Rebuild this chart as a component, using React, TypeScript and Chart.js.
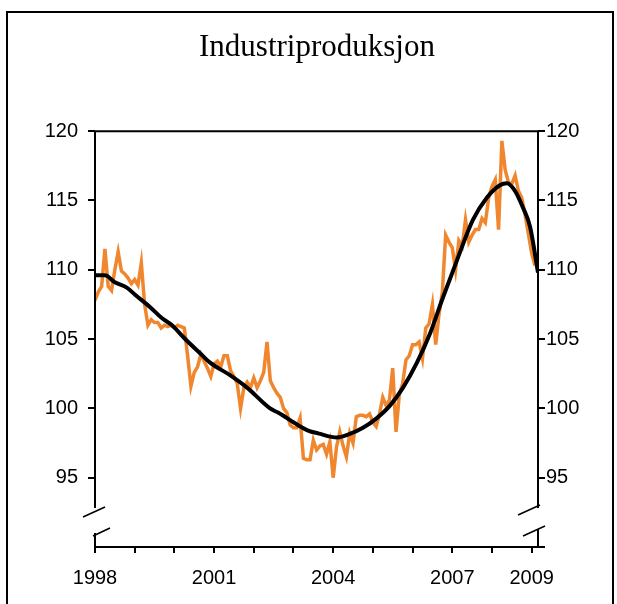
import React, { useEffect, useRef } from 'react';
import { Chart, registerables } from 'chart.js';

Chart.register(...registerables);

const TITLE = 'Industriproduksjon';
const START_YEAR = 1998;

// Monthly index, Jan 1998 - Feb 2009
const industrialProduction = [
  107.8, 108.4, 108.8, 111.5, 108.8, 108.5, 110.0, 111.3, 109.9, 109.7, 109.4, 109.0,
  109.3, 108.9, 110.5, 107.5, 106.0, 106.4, 106.2, 106.2, 105.8, 106.0, 105.9, 106.0,
  105.8, 106.0, 105.9, 105.8, 103.8, 101.6, 102.6, 103.0, 103.9, 103.4, 102.9, 102.3,
  103.2, 103.4, 103.0, 103.8, 103.8, 102.7, 102.3, 101.8, 100.0, 101.5, 101.9, 101.5,
  102.2, 101.5, 102.0, 102.6, 104.8, 102.0, 101.5, 101.1, 100.8, 100.0, 99.7, 98.8,
  98.6, 98.6, 99.3, 96.4, 96.3, 96.3, 97.7, 97.0, 97.3, 97.4, 96.7, 97.6,
  95.0, 97.2, 98.3, 97.3, 96.5, 98.2, 97.5, 99.4, 99.5, 99.5, 99.4, 99.6,
  99.0, 98.7, 99.6, 100.8, 100.2, 100.6, 102.9, 98.3, 101.0, 101.8, 103.5, 103.8,
  104.6, 104.6, 104.8, 103.6, 105.8, 106.1, 107.5, 104.6, 106.8, 108.4, 112.5, 112.0,
  111.6, 110.0, 112.1, 111.7, 113.6, 112.0, 112.5, 112.9, 112.9, 113.7, 113.4, 115.2,
  116.0, 116.5, 112.9, 119.3, 117.2, 116.3, 116.2, 116.8, 115.7, 115.2, 114.0, 112.6,
  111.2, 110.3,
];

const trendYears = [
  1998.0, 1998.25, 1998.5, 1998.81, 1999.01, 1999.39, 1999.69, 1999.94, 2000.24, 2000.64,
  2000.9, 2001.4, 2001.83, 2002.41, 2002.61, 2003.11, 2003.37, 2003.62, 2004.1, 2004.37,
  2004.75, 2005.1, 2005.43, 2005.76, 2006.11, 2006.44, 2006.74, 2007.12, 2007.52, 2007.87,
  2008.2, 2008.38, 2008.58, 2008.78, 2008.96, 2009.16,
];
const trendValues = [
  109.6, 109.6, 109.1, 108.7, 108.2, 107.3, 106.5, 106.0, 105.1, 104.0,
  103.3, 102.4, 101.5, 100.0, 99.7, 98.8, 98.4, 98.2, 97.9, 98.1,
  98.6, 99.3, 100.2, 101.5, 103.3, 105.4, 107.8, 110.7, 113.6, 115.2,
  116.1, 116.25, 115.7, 114.5, 113.1, 109.8,
];

const yearTicks = [1998, 1999, 2000, 2001, 2002, 2003, 2004, 2005, 2006, 2007, 2008, 2009];
const labelledYears = ['1998', '2001', '2004', '2007', '2009'];
const X_MIN = 1998;
const X_MAX = 2009.16;
const Y_MIN = 90;
const Y_MAX = 120;
const Y_STEP = 5;

const ORANGE = '#F0872F';
const TICK_FONT = { family: "Arial, 'Liberation Sans', sans-serif", size: 20 };

const axisFramePlugin = {
  id: 'axisFrame',
  afterDraw(chart: any) {
    const { ctx } = chart;
    const { left: L, right: R, top: T, bottom: B } = chart.chartArea;
    ctx.save();
    ctx.strokeStyle = '#000';
    ctx.lineCap = 'butt';
    const line = (x1: number, y1: number, x2: number, y2: number) => {
      ctx.beginPath();
      ctx.moveTo(x1, y1);
      ctx.lineTo(x2, y2);
      ctx.stroke();
    };
    ctx.lineWidth = 2;
    line(L - 1, T, R + 1, T);
    line(L, T, L, B - 39);
    line(L, B - 14, L, B + 1);
    line(R, T, R, B - 39);
    line(R, B - 18, R, B + 1);
    line(L - 1, B, R + 7, B);
    ctx.lineWidth = 1.6;
    line(L - 12, B - 30, L + 10, B - 40);
    line(L - 2, B - 11, L + 15, B - 19);
    line(R - 20, B - 32, R + 2, B - 42);
    line(R - 15, B - 11, R + 7, B - 21);
    ctx.restore();
  },
};

function yAxis(position: 'left' | 'right', width: number, padding: number) {
  return {
    type: 'linear',
    position,
    min: Y_MIN,
    max: Y_MAX,
    afterFit: (scale: any) => {
      scale.width = width;
    },
    border: { display: false },
    grid: {
      display: true,
      drawOnChartArea: false,
      drawTicks: true,
      tickLength: 7,
      lineWidth: 2,
      tickColor: (c: any) => (c.tick && c.tick.value === Y_MIN ? 'rgba(0,0,0,0)' : '#000'),
    },
    ticks: {
      stepSize: Y_STEP,
      padding,
      color: '#000',
      font: TICK_FONT,
      callback: (v: any) => (v === Y_MIN ? '' : String(v)),
    },
  };
}

export default function App() {
  const canvasRef = useRef<HTMLCanvasElement | null>(null);

  useEffect(() => {
    if (!canvasRef.current) return;
    const orangeData = industrialProduction.map((v, i) => ({ x: START_YEAR + i / 12, y: v }));
    const trendData = trendYears.map((x, i) => ({ x, y: trendValues[i] }));
    const chart = new Chart(canvasRef.current, {
      type: 'line',
      data: {
        datasets: [
          {
            label: 'Trend',
            data: trendData,
            borderColor: '#000',
            borderWidth: 4,
            pointRadius: 0,
            cubicInterpolationMode: 'monotone',
            fill: false,
            yAxisID: 'y',
          },
          {
            label: 'Industriproduksjon',
            data: orangeData,
            borderColor: ORANGE,
            borderWidth: 3.5,
            pointRadius: 0,
            tension: 0,
            fill: false,
            yAxisID: 'y',
          },
        ],
      },
      options: {
        responsive: false,
        animation: false,
        layout: { padding: { left: 17, right: 0, top: 0, bottom: 0 } },
        plugins: {
          legend: { display: false },
          tooltip: { enabled: false },
          title: {
            display: true,
            text: TITLE,
            color: '#000',
            font: { family: "'Times New Roman', 'Liberation Serif', serif", size: 31, weight: 'normal' },
            padding: { top: 29, bottom: 65 },
          },
        },
        scales: {
          x: {
            type: 'linear',
            min: X_MIN,
            max: X_MAX,
            afterFit: (scale: any) => {
              scale.height = 57;
            },
            afterBuildTicks: (scale: any) => {
              scale.ticks = yearTicks.map((v) => ({ value: v }));
            },
            border: { display: false },
            grid: {
              display: true,
              drawOnChartArea: false,
              drawTicks: true,
              tickLength: 6,
              lineWidth: 2,
              tickColor: '#000',
            },
            ticks: {
              autoSkip: false,
              maxRotation: 0,
              padding: 13,
              color: '#000',
              font: TICK_FONT,
              callback: (v: any) => (labelledYears.includes(String(v)) ? String(v) : ''),
            },
          },
          y: yAxis('left', 78, 10),
          y2: yAxis('right', 79, 1),
        },
      } as any,
      plugins: [axisFramePlugin],
    } as any);
    return () => chart.destroy();
  }, []);

  return (
    <div
      style={{
        position: 'fixed',
        left: 0,
        top: 0,
        width: 617,
        height: 604,
        overflow: 'hidden',
        background: '#fff',
      }}
    >
      <div
        style={{
          position: 'absolute',
          left: 6,
          top: 11,
          width: 608,
          height: 700,
          border: '2px solid #000',
          boxSizing: 'border-box',
        }}
      />
      <canvas
        ref={canvasRef}
        width={617}
        height={604}
        style={{ position: 'absolute', left: 0, top: 0, width: 617, height: 604 }}
      />
    </div>
  );
}
